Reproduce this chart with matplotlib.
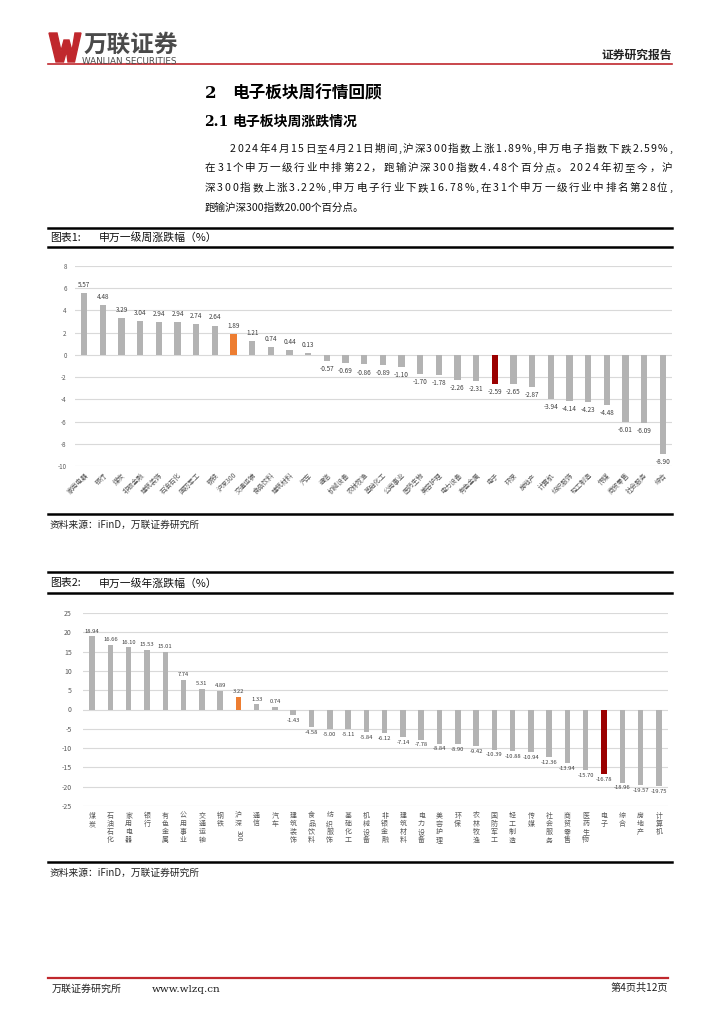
import matplotlib
matplotlib.use('Agg')
import matplotlib.pyplot as plt
from matplotlib.lines import Line2D
from matplotlib.patches import Polygon
import numpy as np

plt.rcParams['font.family'] = ['Noto Sans CJK SC', 'DejaVu Sans']

# ---------------- data ----------------
weekly_labels = ['家用电器', '银行', '煤炭', '非银金融', '建筑装饰', '石油石化', '国防军工', '钢铁',
                 '沪深300', '交通运输', '食品饮料', '建筑材料', '汽车', '通信', '机械设备', '农林牧渔',
                 '基础化工', '公用事业', '医药生物', '美容护理', '电力设备', '有色金属', '电子', '环保',
                 '房地产', '计算机', '纺织服饰', '轻工制造', '传媒', '商贸零售', '社会服务', '综合']
weekly_values = [5.57, 4.48, 3.29, 3.04, 2.94, 2.94, 2.74, 2.64, 1.89, 1.21, 0.74, 0.44, 0.13,
                 -0.57, -0.69, -0.86, -0.89, -1.10, -1.70, -1.78, -2.26, -2.31, -2.59, -2.65,
                 -2.87, -3.94, -4.14, -4.23, -4.48, -6.01, -6.09, -8.90]
weekly_ticks = [8, 6, 4, 2, 0, -2, -4, -6, -8, -10]

yearly_labels = ['煤炭', '石油石化', '家用电器', '银行', '有色金属', '公用事业', '交通运输', '钢铁',
                 '沪深300', '通信', '汽车', '建筑装饰', '食品饮料', '纺织服饰', '基础化工', '机械设备',
                 '非银金融', '建筑材料', '电力设备', '美容护理', '环保', '农林牧渔', '国防军工', '轻工制造',
                 '传媒', '社会服务', '商贸零售', '医药生物', '电子', '综合', '房地产', '计算机']
yearly_values = [18.94, 16.66, 16.10, 15.53, 15.01, 7.74, 5.31, 4.89, 3.22, 1.33, 0.74, -1.43,
                 -4.58, -5.00, -5.11, -5.84, -6.12, -7.14, -7.78, -8.84, -8.90, -9.42, -10.39,
                 -10.88, -10.94, -12.36, -13.94, -15.70, -16.78, -18.96, -19.57, -19.75]
yearly_ticks = [25, 20, 15, 10, 5, 0, -5, -10, -15, -20, -25]

GRAY = '#b3b3b3'
ORANGE = '#ed7d31'
DARKRED = '#9b0000'
RED = '#c0282d'


def bar_colors(labels):
    cols = []
    for l in labels:
        if l == '沪深300':
            cols.append(ORANGE)
        elif l == '电子':
            cols.append(DARKRED)
        else:
            cols.append(GRAY)
    return cols


W, H = 724, 1024
fig = plt.figure(figsize=(7.24, 10.24), dpi=100)
renderer = fig.canvas.get_renderer()


def fx(x):
    return x / W


def fy(y):
    return 1 - y / H


def hline(x0, x1, y, color, lw):
    fig.add_artist(Line2D([fx(x0), fx(x1)], [fy(y), fy(y)], color=color, lw=lw,
                          transform=fig.transFigure))


def text(x, y, s, **kw):
    kw.setdefault('va', 'center')
    return fig.text(fx(x), fy(y), s, **kw)


def spaced(x0, y, s, x1=None, extra=0.0, **kw):
    ts = [text(0, y, c, **kw) for c in s]
    widths = [t.get_window_extent(renderer).width for t in ts]
    if x1 is not None:
        extra = (x1 - x0 - sum(widths)) / (len(s) - 1)
    x = x0
    for t, w in zip(ts, widths):
        t.set_x(fx(x))
        x += w + extra
    return extra


# ---------------- header / logo ----------------
wpts = [(49, 33), (57, 33), (61, 51), (64, 40), (69, 40), (72, 51), (75, 33), (81, 33),
        (74.5, 62), (68, 62), (66.5, 51), (63.5, 62), (56, 62)]
fig.add_artist(Polygon([(fx(a), fy(b)) for a, b in wpts], closed=True, color=RED,
                       transform=fig.transFigure))
text(84, 51.5, '万联证券', fontsize=17, fontweight='bold', color='#4a4a4a', va='baseline')
text(82, 61, 'WANLIAN SECURITIES', fontsize=6.3, color='#4a4a4a', family=['DejaVu Sans'])
text(672, 55, '证券研究报告', fontsize=8.5, fontweight='bold', color='#222222', ha='right')
hline(48, 672, 63.5, RED, 1.2)

# ---------------- headings and paragraph ----------------
text(205, 93, '2', fontsize=12, fontweight='bold', color='black', family=['DejaVu Serif'])
text(232, 93, '电子板块周行情回顾', fontsize=12, fontweight='bold', color='black')
text(204, 122, '2.1', fontsize=10, fontweight='bold', color='black', family=['DejaVu Serif'])
text(232, 122, '电子板块周涨跌情况', fontsize=10, fontweight='bold', color='black')

pkw = dict(fontsize=7.6, color='#111111')
spaced(230, 149, '2024年4月15日至4月21日期间,沪深300指数上涨1.89%,申万电子指数下跌2.59%,', x1=672, **pkw)
spaced(205, 168, '在31个申万一级行业中排第22，跑输沪深300指数4.48个百分点。2024年初至今，沪', x1=672, **pkw)
spaced(205, 188, '深300指数上涨3.22%,申万电子行业下跌16.78%,在31个申万一级行业中排名第28位,', x1=672, **pkw)
text(205, 208, '跑输沪深300指数20.00个百分点。', **pkw)

# ---------------- chart 1 frame ----------------
hline(48, 672, 228, 'black', 1.8)
text(50, 238, '图表1:', fontsize=7.8, color='#111111')
text(99, 238, '申万一级周涨跌幅（%）', fontsize=7.8, color='#111111')
hline(48, 672, 247, 'black', 1.8)
hline(48, 672, 514, 'black', 1.8)
text(50, 525, '资料来源：iFinD，万联证券研究所', fontsize=7, color='#222222', fontstyle='italic')

ax1 = fig.add_axes([fx(75), fy(466), (672 - 75) / W, (466 - 266) / H])
x1 = np.arange(len(weekly_values))
ax1.bar(x1, weekly_values, width=0.34, color=bar_colors(weekly_labels), zorder=3)
ax1.set_xlim(-0.5, len(weekly_values) - 0.5)
ax1.set_ylim(-10, 8)
ax1.set_yticks(weekly_ticks)
ax1.set_yticklabels([str(t) for t in weekly_ticks], fontsize=4.5, color='#595959')
ax1.grid(axis='y', color='#d9d9d9', lw=0.8, zorder=0)
for s in ax1.spines.values():
    s.set_visible(False)
ax1.tick_params(axis='both', length=0)
ax1.tick_params(axis='y', pad=6)
ax1.set_xticks(x1)
ax1.set_xticklabels(weekly_labels, rotation=45, ha='right', rotation_mode='anchor',
                    fontsize=4.8, color='#595959')
ax1.tick_params(axis='x', pad=4)
for xi, v in zip(x1, weekly_values):
    if v >= 0:
        ax1.annotate(f'{v:.2f}', (xi, v), xytext=(0, 3), textcoords='offset points',
                     ha='center', va='bottom', fontsize=4.6, color='#404040')
    else:
        ax1.annotate(f'{v:.2f}', (xi, v), xytext=(0, -3), textcoords='offset points',
                     ha='center', va='top', fontsize=4.6, color='#404040')

# ---------------- chart 2 frame ----------------
hline(48, 672, 572, 'black', 1.8)
text(50, 583, '图表2:', fontsize=7.8, color='#111111')
text(99, 583, '申万一级年涨跌幅（%）', fontsize=7.8, color='#111111')
hline(48, 672, 593, 'black', 1.8)
hline(48, 672, 862, 'black', 1.8)
text(50, 873, '资料来源：iFinD，万联证券研究所', fontsize=7, color='#222222', fontstyle='italic')

ax2 = fig.add_axes([fx(83), fy(806), (668 - 83) / W, (806 - 613) / H])
x2 = np.arange(len(yearly_values))
ax2.bar(x2, yearly_values, width=0.3, color=bar_colors(yearly_labels), zorder=3)
ax2.set_xlim(-0.5, len(yearly_values) - 0.5)
ax2.set_ylim(-25, 25)
ax2.set_yticks(yearly_ticks)
ax2.set_yticklabels([str(t) for t in yearly_ticks], fontsize=5, color='#595959')
ax2.grid(axis='y', color='#d9d9d9', lw=0.8, zorder=0)
for s in ax2.spines.values():
    s.set_visible(False)
ax2.tick_params(axis='both', length=0)
ax2.tick_params(axis='y', pad=8)
ax2.set_xticks(x2)
xl2 = []
for l in yearly_labels:
    if l == '沪深300':
        xl2.append('沪\n深')
    else:
        xl2.append('\n'.join(list(l)))
ax2.set_xticklabels(xl2, fontsize=5, color='#595959', linespacing=1.05, va='top')
ax2.tick_params(axis='x', pad=4)
for xi, l in zip(x2, yearly_labels):
    if l == '沪深300':
        ax2.annotate('300', (xi, 0), xycoords=('data', 'axes fraction'),
                     xytext=(0, -17.5), textcoords='offset points', rotation=270,
                     ha='center', va='top', fontsize=5, color='#595959')
for xi, v in zip(x2, yearly_values):
    if v >= 0:
        ax2.annotate(f'{v:.2f}', (xi, v), xytext=(0, 2), textcoords='offset points',
                     ha='center', va='bottom', fontsize=4.2, color='#404040')
    else:
        ax2.annotate(f'{v:.2f}', (xi, v), xytext=(0, -2), textcoords='offset points',
                     ha='center', va='top', fontsize=4.2, color='#404040')

# ---------------- footer ----------------
hline(48, 668, 978, RED, 1.6)
text(52, 989, '万联证券研究所', fontsize=7.2, color='#222222')
text(152, 989, 'www.wlzq.cn', fontsize=7.5, color='#222222', family=['DejaVu Serif'])
text(668, 988, '第4页共12页', fontsize=7.3, color='#222222', ha='right')

fig.savefig('out.png', dpi=100)
